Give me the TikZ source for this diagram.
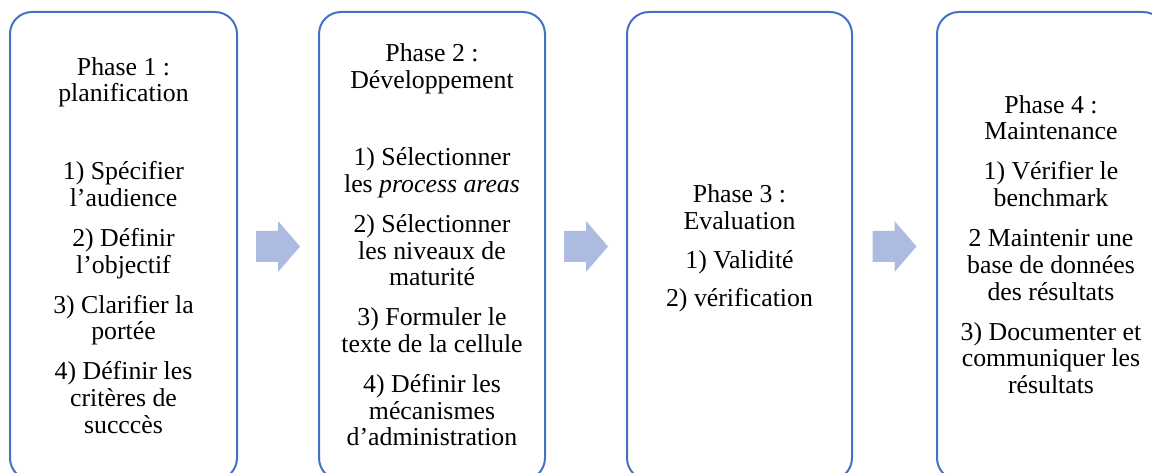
\documentclass[tikz,border=0pt]{standalone}
\usepackage{fontspec}
\setmainfont{Liberation Serif}
\usetikzlibrary{calc}
\definecolor{boxblue}{HTML}{4472C4}
\definecolor{arrowfill}{RGB}{174,187,225}
\newcommand\topstrut{\rule{0pt}{22pt}}
\tikzset{
  phasebox/.style={draw=boxblue, line width=2pt, rounded corners=22pt, minimum height=468pt, inner sep=0pt, fill=white},
  phasetext/.style={align=center, anchor=north, inner sep=0pt, font=\fontsize{25.8}{26.7}\selectfont},
  barrow/.pic={\fill[arrowfill] (-22,-15.5) -- (0,-15.5) -- (0,-25.5) -- (22,0) -- (0,25.5) -- (0,15.5) -- (-22,15.5) -- cycle;}
}
\begin{document}
\begin{tikzpicture}[x=1pt,y=-1pt]
\path[use as bounding box, clip] (0,0) rectangle (1152,473);
\fill[white] (0,0) rectangle (1152,473);
% boxes
\node[phasebox, minimum width=227pt] (b1) at (123.5,246) {};
\node[phasebox, minimum width=226pt] (b2) at (432,246) {};
\node[phasebox, minimum width=225pt] (b3) at (739.5,246) {};
\node[phasebox, minimum width=228pt] (b4) at (1051,246) {};
% texts
\node[phasetext] (t1) at (123.5,53) {\topstrut Phase 1 :\\ planification\\[51pt]
  1) Spécifier\\ l’audience\\[13.3pt]
  2) Définir\\ l’objectif\\[13.3pt]
  3) Clarifier la\\ portée\\[13.3pt]
  4) Définir les\\ critères de\\ succcès};
\node[phasetext] (t2) at (432,39.7) {\topstrut Phase 2 :\\ Développement\\[50.3pt]
  1) Sélectionner\\ les \textit{process areas}\\[13.3pt]
  2) Sélectionner\\ les niveaux de\\ maturité\\[13.3pt]
  3) Formuler le\\ texte de la cellule\\[13.3pt]
  4) Définir les\\ mécanismes\\ d’administration};
\node[phasetext] (t3) at (739.5,180.7) {\topstrut Phase 3 :\\ Evaluation\\[12pt]
  1) Validité\\[12pt]
  2) vérification};
\node[phasetext] (t4) at (1051,91) {\topstrut Phase 4 :\\ Maintenance\\[13.3pt]
  1) Vérifier le\\ benchmark\\[13.3pt]
  2 Maintenir une\\ base de données\\ des résultats\\[13.3pt]
  3) Documenter et\\ communiquer les\\ résultats};
% arrows
\pic at ($(b1.east)!0.5!(b2.west)+(0,0.5)$) {barrow};
\pic at ($(b2.east)!0.5!(b3.west)+(0,0.5)$) {barrow};
\pic at ($(b3.east)!0.5!(b4.west)+(0,0.5)$) {barrow};
\end{tikzpicture}
\end{document}
